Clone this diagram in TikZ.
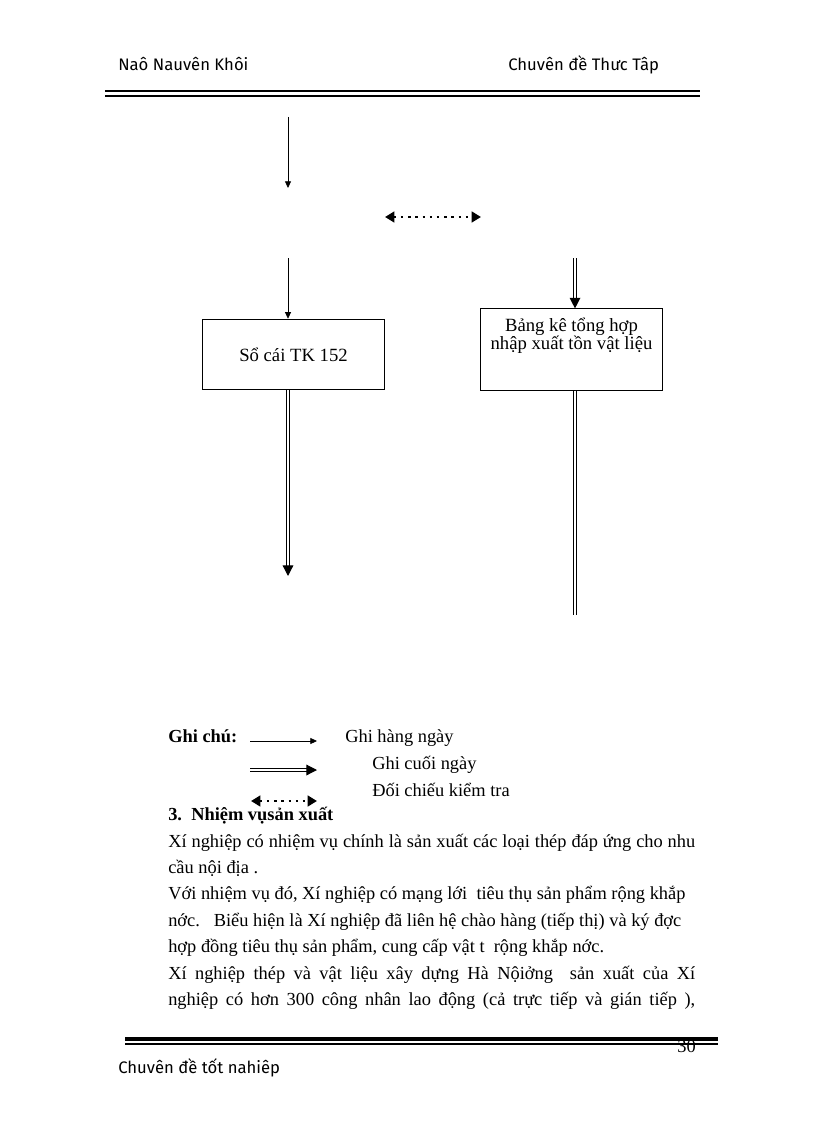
\documentclass[tikz,border=0pt]{standalone}
\usepackage{fontspec}
\setmainfont{Liberation Serif}
\newfontfamily\hdrfont{Fira Sans}
\usetikzlibrary{arrows.meta,calc}
\tikzset{%
  box/.style      = {shape=rectangle, draw, line width=0.6pt, align=center,%
                     inner sep=0pt, font=\fontsize{14}{13.5}\selectfont},%
  thinarrow/.style = {line width=0.6pt, -{Triangle[length=5pt,width=4.5pt]}},%
  dblline/.style  = {double, line width=0.9pt, double distance=1.1pt},%
  dblarrow/.style = {dblline, -{Triangle[length=8pt,width=8pt]}},%
  checkarrow/.style = {line width=2pt, dash pattern=on 1.8pt off 3.6pt,%
                     {Triangle[length=7pt,width=8pt]}-{Triangle[length=7pt,width=8pt]}},%
  hdr/.style      = {anchor=base west, inner sep=0pt, font=\hdrfont\fontsize{12.5}{14}\selectfont},%
  txt/.style      = {anchor=base west, inner sep=0pt, font=\fontsize{13.8}{16}\selectfont}%
}
\newcommand{\fullline}[1]{\makebox[395.25pt][s]{#1}}

\begin{document}
\begin{tikzpicture}[x=0.75pt,y=-0.75pt]
	\useasboundingbox (0,0) rectangle (816,1123);
	% header and footer
	\node[hdr] (hdrleft) at (118,71) {Naô Nauvên Khôi};
	\node[hdr] (hdrright) at (508,71) {Chuvên đề Thưc Tâp};
	\draw[line width=2.2pt] (105,91) -- (700,91);
	\draw[line width=1pt] (105,96) -- (700,96);
	\draw[line width=3pt] (125,1039) -- (718,1039);
	\draw[line width=1pt] (125,1044) -- (718,1044);
	\node[txt, anchor=base east] (page) at (696,1052) {30};
	\node[hdr] (ftr) at (118,1073) {Chuvên đề tốt nahiêp};
	% diagram
	\node[box, minimum width=137pt, minimum height=53pt] (socai) at (293.5,354.5)
		{Sổ cái TK 152};
	\node[box, minimum width=137pt, minimum height=61pt] (bangke) at (571.5,349.5)
		{Bảng kê tổng hợp\\[0pt] nhập xuất tồn vật liệu\\[10pt]};
	\coordinate (topA) at (288,117);
	\coordinate (topB) at (288,188);
	\coordinate (midA) at (288,258);
	\coordinate (midB) at (575,258);
	\coordinate (chkL) at (385,217);
	\coordinate (chkR) at (481,217);
	\coordinate (endA) at (288,576);
	\coordinate (endB) at (575,615);
	\draw[thinarrow] (topA) -- (topB);
	\draw[checkarrow] (chkL) -- (chkR);
	\draw[thinarrow] (midA) -- (midA |- socai.north);
	\draw[dblarrow] (midB) -- (midB |- bangke.north);
	\draw[dblarrow] (endA |- socai.south) -- (endA);
	\draw[dblline] (endB |- bangke.south) -- (endB);
	% legend
	\node[txt] (ghichu) at (168,742) {\bfseries Ghi chú:};
	\coordinate (lgA1) at (250,741);
	\coordinate (lgA2) at (317,741);
	\coordinate (lgB1) at (250,770);
	\coordinate (lgB2) at (317,770);
	\coordinate (lgC1) at (251,801);
	\coordinate (lgC2) at (317,801);
	\draw[thinarrow] (lgA1) -- (lgA2);
	\draw[dblarrow] (lgB1) -- (lgB2);
	\draw[checkarrow] (lgC1) -- (lgC2);
	\node[txt] (lghang) at (345,742) {Ghi hàng ngày};
	\node[txt] (lgcuoi) at (372,769) {Ghi cuối ngày};
	\node[txt] (lgdoi) at (372,796) {Đối chiếu kiểm tra};
	% text
	\node[txt] (sec) at (168,820) {\bfseries 3.\ \ Nhiệm vụsản xuất};
	\node[txt] (l1) at (168,847) {\fullline{Xí nghiệp có nhiệm vụ chính là sản xuất các loại thép đáp ứng cho nhu}};
	\node[txt] (l2) at (168,873) {cầu nội địa .};
	\node[txt] (l3) at (168,899) {Với nhiệm vụ đó, Xí nghiệp có mạng lới\ \ tiêu thụ sản phẩm rộng khắp};
	\node[txt] (l4) at (168,926) {nớc.\ \ \ Biểu hiện là Xí nghiệp đã liên hệ chào hàng (tiếp thị) và ký đợc};
	\node[txt] (l5) at (168,952) {hợp đồng tiêu thụ sản phẩm, cung cấp vật t\ \ rộng khắp nớc.};
	\node[txt] (l6) at (168,979) {\fullline{Xí nghiệp thép và vật liệu xây dựng Hà Nộiởng\ \ sản xuất của Xí}};
	\node[txt] (l7) at (168,1005) {\fullline{nghiệp có hơn 300 công nhân lao động (cả trực tiếp và gián tiếp ),}};
\end{tikzpicture}
\end{document}
